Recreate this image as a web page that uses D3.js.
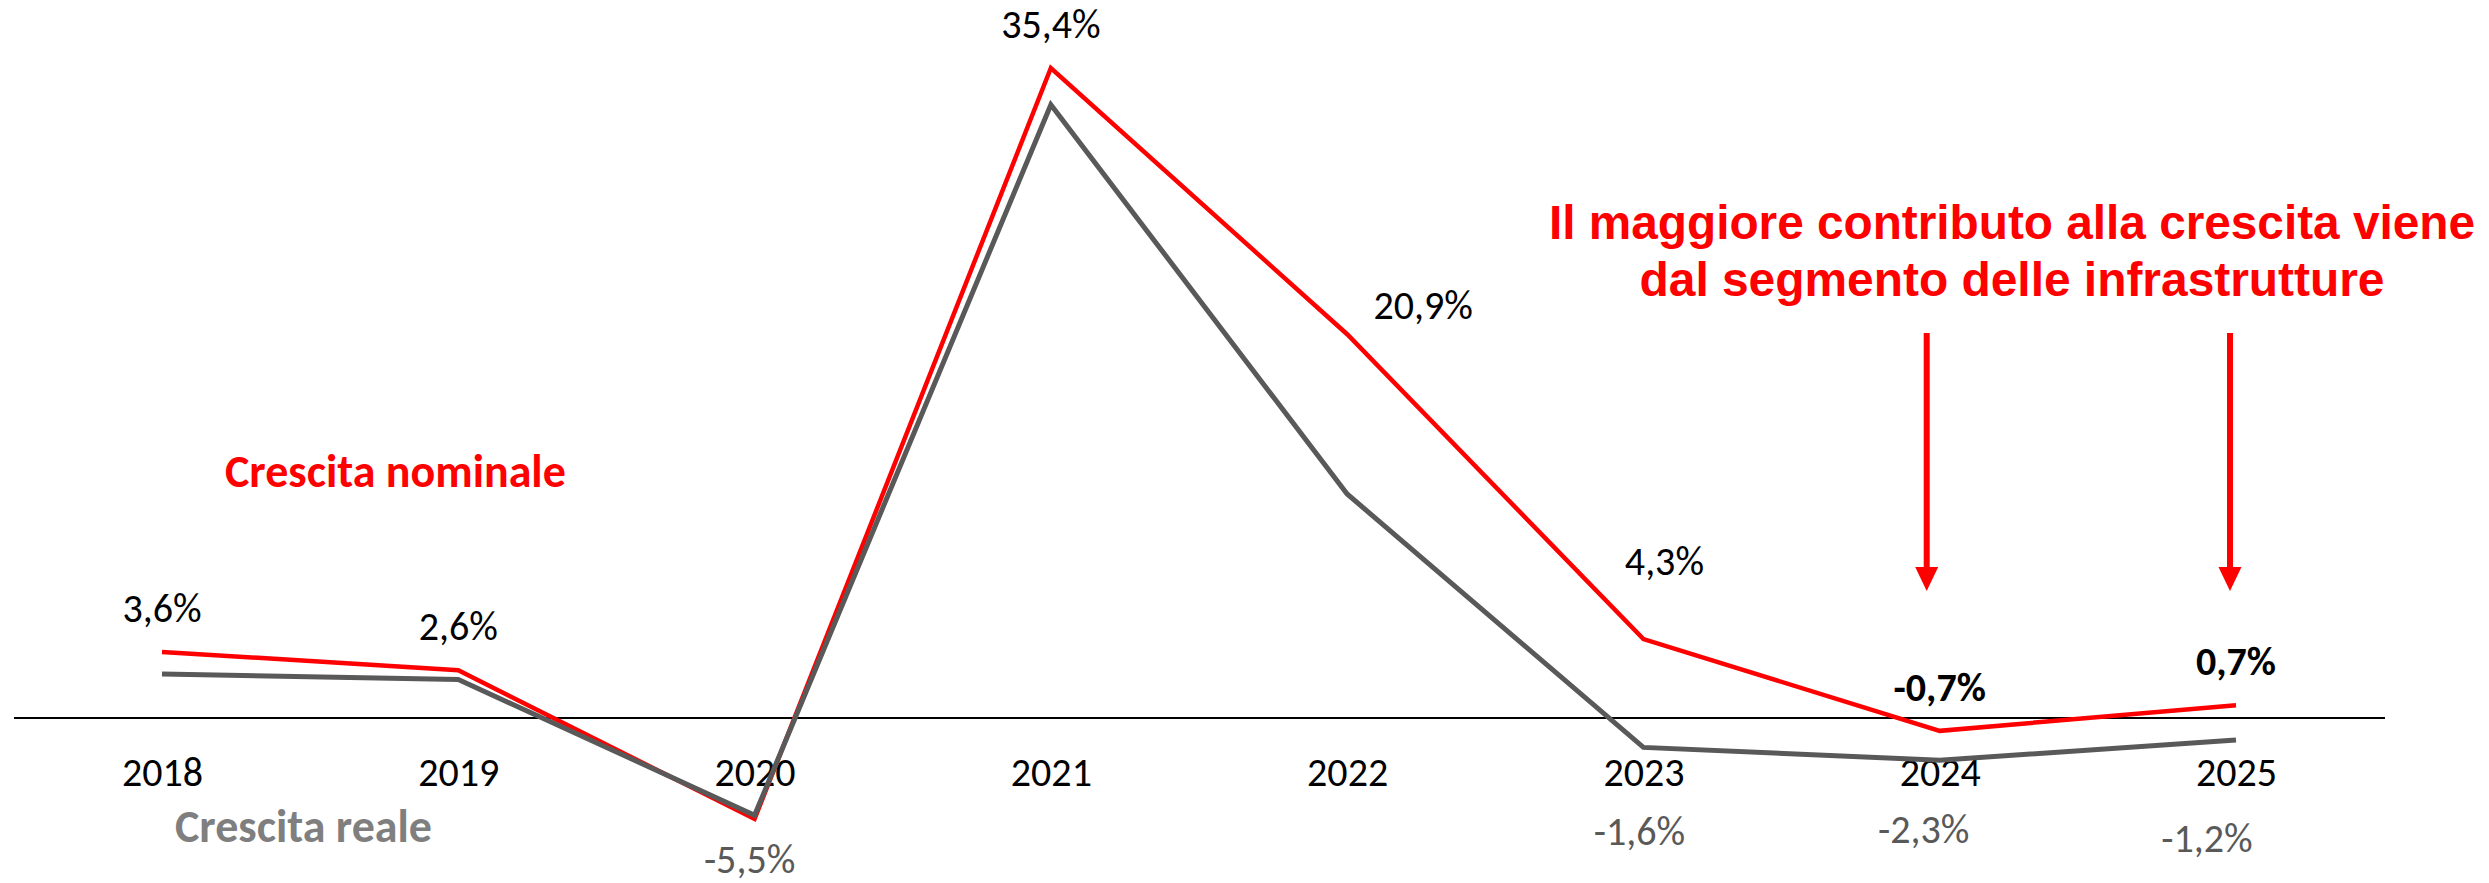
<html>
<head>
<title>
Crescita
</title>
</head>
<meta charset="utf-8">

<style type="text/css">
body { margin: 0; background: #fff; }
svg text { font-family: Carlito, Calibri, Lato, sans-serif; }
.tick text { font-size: 40px; fill: #000; }
</style>
<body>

<script src="https://d3js.org/d3.v7.min.js"></script>
<script>

// data
var years = ["2018", "2019", "2020", "2021", "2022", "2023", "2024", "2025"];
var nominale = [3.6, 2.6, -5.5, 35.4, 20.9, 4.3, -0.7, 0.7];
var reale = [2.4, 2.1, -5.3, 33.4, 12.2, -1.6, -2.3, -1.2];
// which points get a value label
var nominaleLabelYears = ["2018", "2019", "2021", "2022", "2023", "2024", "2025"];
var realeLabelYears = ["2023", "2024", "2025"];
var boldYears = ["2024", "2025"];
var titleLines = ["Il maggiore contributo alla crescita viene", "dal segmento delle infrastrutture"];
var arrowYears = ["2024", "2025"];

var width = 2489, height = 883;

var svg = d3.select("body").append("svg")
    .attr("width", width)
    .attr("height", height);

var x = d3.scalePoint()
    .domain(years)
    .range([162, 2236]);
var y = d3.scaleLinear()
    .domain([0, 35.4])
    .range([718, 68]);

// italian style: comma decimal, plain hyphen for minus
var fmt = function(v) {
  return d3.format(".1f")(v).replace(".", ",").replace("\u2212", "-") + "%";
};

// x axis: only labels, the zero line is drawn by hand
var axis = svg.append("g")
    .attr("transform", "translate(0," + y(0) + ")")
    .call(d3.axisBottom(x).tickSize(0).tickPadding(40));
axis.select(".domain").remove();
axis.selectAll("text").attr("font-family", null);

svg.append("line")
    .attr("x1", 14).attr("x2", 2385)
    .attr("y1", y(0)).attr("y2", y(0))
    .attr("stroke", "#000")
    .attr("stroke-width", 2);

var line = d3.line()
    .x(function(d) { return x(d.year); })
    .y(function(d) { return y(d.v); });

var nomData = years.map(function(yr, i) { return {year: yr, v: nominale[i]}; });
var realData = years.map(function(yr, i) { return {year: yr, v: reale[i]}; });

svg.append("path")
    .datum(nomData)
    .attr("fill", "none")
    .attr("stroke", "#ff0000")
    .attr("stroke-width", 4.5)
    .attr("d", line);

svg.append("path")
    .datum(realData)
    .attr("fill", "none")
    .attr("stroke", "#595959")
    .attr("stroke-width", 5)
    .attr("d", line);

// label offsets (position only)
var nomOffset = {"2022": [76, -15], "2023": [21, -64]};

svg.selectAll(".nomlab")
    .data(nomData.filter(function(d) { return nominaleLabelYears.indexOf(d.year) >= 0; }))
    .enter().append("text")
    .attr("class", "nomlab")
    .attr("text-anchor", "middle")
    .attr("x", function(d) { return x(d.year) + (nomOffset[d.year] ? nomOffset[d.year][0] : 0); })
    .attr("y", function(d) { return y(d.v) + (nomOffset[d.year] ? nomOffset[d.year][1] : -30); })
    .attr("font-size", 40)
    .attr("font-weight", function(d) { return boldYears.indexOf(d.year) >= 0 ? "bold" : "normal"; })
    .attr("fill", "#000")
    .text(function(d) { return fmt(d.v); });

// real growth labels sit below the axis
var realLabelY = {"2023": 845, "2024": 843, "2025": 852};
var realDx = {"2023": -4, "2024": -16, "2025": -29};

svg.selectAll(".reallab")
    .data(realData.filter(function(d) { return realeLabelYears.indexOf(d.year) >= 0; }))
    .enter().append("text")
    .attr("class", "reallab")
    .attr("text-anchor", "middle")
    .attr("x", function(d) { return x(d.year) + realDx[d.year]; })
    .attr("y", function(d) { return realLabelY[d.year]; })
    .attr("font-size", 40)
    .attr("fill", "#595959")
    .text(function(d) { return fmt(d.v); });

// 2020 label shows the nominal value, in grey under the dip
svg.append("text")
    .attr("text-anchor", "middle")
    .attr("x", x("2020") - 5)
    .attr("y", 873)
    .attr("font-size", 40)
    .attr("fill", "#595959")
    .text(fmt(nominale[2]));

// series names
svg.append("text")
    .attr("x", 225).attr("y", 487)
    .attr("font-size", 46)
    .attr("font-weight", "bold")
    .attr("fill", "#ff0000")
    .text("Crescita nominale");

svg.append("text")
    .attr("x", 175).attr("y", 842)
    .attr("font-size", 46)
    .attr("font-weight", "bold")
    .attr("fill", "#7f7f7f")
    .text("Crescita reale");

// annotation
var titleLen = [926, 745];
svg.selectAll(".title")
    .data(titleLines)
    .enter().append("text")
    .attr("class", "title")
    .attr("x", 2012)
    .attr("y", function(d, i) { return 239 + i * 57; })
    .attr("text-anchor", "middle")
    .attr("textLength", function(d, i) { return titleLen[i]; })
    .attr("lengthAdjust", "spacingAndGlyphs")
    .style("font-family", "'Liberation Sans Narrow', 'Liberation Sans', Arial, sans-serif")
    .attr("font-size", 48)
    .attr("font-weight", "bold")
    .attr("fill", "#ff0000")
    .text(function(d) { return d; });

var arrowDx = {"2024": -13, "2025": -6};
arrowYears.forEach(function(yr) {
  var ax = x(yr) + arrowDx[yr];
  svg.append("line")
      .attr("x1", ax).attr("x2", ax)
      .attr("y1", 333).attr("y2", 570)
      .attr("stroke", "#ff0000")
      .attr("stroke-width", 6);
  svg.append("path")
      .attr("d", "M" + (ax - 11.5) + ",567 L" + (ax + 11.5) + ",567 L" + ax + ",591 Z")
      .attr("fill", "#ff0000");
});

</script>
</body>
</html>
